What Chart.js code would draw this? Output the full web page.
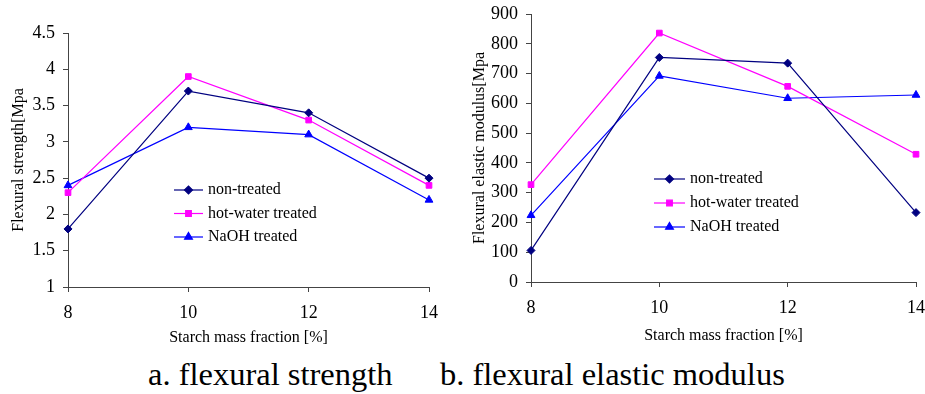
<!DOCTYPE html>
<html>
<head>
<meta charset="utf-8">
<script src="https://cdn.jsdelivr.net/npm/chart.js@4/dist/chart.umd.min.js"></script>
<style>
  body { margin: 0; background: #fff; width: 925px; height: 394px; position: relative; overflow: hidden; }
  canvas { position: absolute; top: 0; }
  .cap { position: absolute; top: 356px; font: 32.5px "Liberation Serif", "Times New Roman", serif; color: #000; white-space: nowrap; }
</style>
</head>
<body>
<canvas id="strength" width="460" height="350" style="left:0"></canvas>
<canvas id="modulus" width="465" height="350" style="left:460px"></canvas>
<div class="cap" style="left:148px">a. flexural strength</div>
<div class="cap" style="left:440px">b. flexural elastic modulus</div>
<script>
// starch mass fraction [%]
const categories = ["8", "10", "12", "14"];
const seriesNames = ["non-treated", "hot-water treated", "NaOH treated"];

// flexural strength [MPa]
const strengthNon = [1.8, 3.7, 3.4, 2.5];
const strengthHot = [2.3, 3.9, 3.3, 2.4];
const strengthNaoh = [2.4, 3.2, 3.1, 2.2];

// flexural elastic modulus [MPa]
const modulusNon = [106, 754, 735, 233];
const modulusHot = [327, 836, 657, 429];
const modulusNaoh = [224, 692, 617, 628];

const colors = ["#000080", "#ff00ff", "#0000ff"];
const markers = ["rectRot", "rect", "triangle"];
const markerSize = [4, 4, 4.5];
const FONT = '"Liberation Serif", "Times New Roman", serif';

// legend drawn inside the plot: a short line with the marker in the middle
const insetLegend = {
  id: "insetLegend",
  afterDraw(chart, args, opts) {
    const ctx = chart.ctx;
    ctx.save();
    ctx.font = "16px " + FONT;
    ctx.textBaseline = "middle";
    chart.data.datasets.forEach((ds, i) => {
      const y = opts.y + i * opts.gap;
      ctx.strokeStyle = ds.borderColor;
      ctx.fillStyle = ds.borderColor;
      ctx.lineWidth = ds.borderWidth;
      ctx.beginPath();
      ctx.moveTo(opts.x, y);
      ctx.lineTo(opts.x + opts.len, y);
      ctx.stroke();
      Chart.helpers.drawPoint(ctx, { pointStyle: ds.pointStyle, radius: ds.pointRadius, rotation: 0, borderWidth: 1 }, opts.x + opts.len / 2, y);
      ctx.fillStyle = "#000";
      ctx.fillText(ds.label, opts.x + opts.len + 5, y);
    });
    ctx.restore();
  }
};

function makeDatasets(values) {
  return values.map((v, i) => ({
    label: seriesNames[i],
    data: v,
    borderColor: colors[i],
    backgroundColor: colors[i],
    borderWidth: 1.2,
    pointStyle: markers[i],
    pointRadius: markerSize[i],
    pointBorderWidth: 1,
    tension: 0
  }));
}

function axisTicks(extra) {
  return Object.assign({ color: "#000", font: { family: FONT, size: 18 } }, extra);
}

// no extra room for overhanging tick labels, layout padding decides
function noOverhang(s) {
  s.paddingLeft = 0; s.paddingRight = 0; s.paddingTop = 0; s.paddingBottom = 0;
}

function makeChart(id, values, y, lay, legend) {
  new Chart(document.getElementById(id), {
    type: "line",
    data: { labels: categories, datasets: makeDatasets(values) },
    plugins: [insetLegend],
    options: {
      responsive: false,
      animation: false,
      layout: { padding: { left: 0, top: lay.top, right: lay.right, bottom: 0 } },
      plugins: {
        legend: { display: false },
        tooltip: { enabled: false },
        insetLegend: legend
      },
      scales: {
        x: {
          offset: false,
          grid: { display: true, drawOnChartArea: false, drawTicks: true, tickLength: 5, color: "#444" },
          border: { color: "#444", width: 1 },
          ticks: axisTicks({ padding: 10, maxRotation: 0 }),
          title: { display: true, text: "Starch mass fraction [%]", color: "#000", font: { family: FONT, size: 16 }, padding: { top: 0, bottom: lay.xTitlePad } },
          afterFit: s => { s.height = lay.xHeight; noOverhang(s); }
        },
        y: {
          min: y.min, max: y.max,
          grid: { display: true, drawOnChartArea: false, drawTicks: true, tickLength: 5, color: "#444" },
          border: { color: "#444", width: 1 },
          ticks: axisTicks({ stepSize: y.step, padding: 8, callback: v => String(Number(v)) }),
          title: { display: true, text: y.title, color: "#000", font: { family: FONT, size: 16 }, padding: { top: lay.yTitlePad, bottom: 0 } },
          afterFit: s => { s.width = lay.yWidth; noOverhang(s); }
        }
      }
    }
  });
}

makeChart("strength", [strengthNon, strengthHot, strengthNaoh],
  { min: 1, max: 4.5, step: 0.5, title: "Flexural strength[Mpa" },
  { top: 33, right: 31, xHeight: 63, yWidth: 68, xTitlePad: 3, yTitlePad: 9 },
  { x: 174, y: 190, gap: 23.5, len: 29 });

makeChart("modulus", [modulusNon, modulusHot, modulusNaoh],
  { min: 0, max: 900, step: 100, title: "Flexural elastic modulus[Mpa" },
  { top: 14, right: 9, xHeight: 68, yWidth: 71, xTitlePad: 5, yTitlePad: 10 },
  { x: 194, y: 179, gap: 24, len: 31 });
</script>
</body>
</html>
